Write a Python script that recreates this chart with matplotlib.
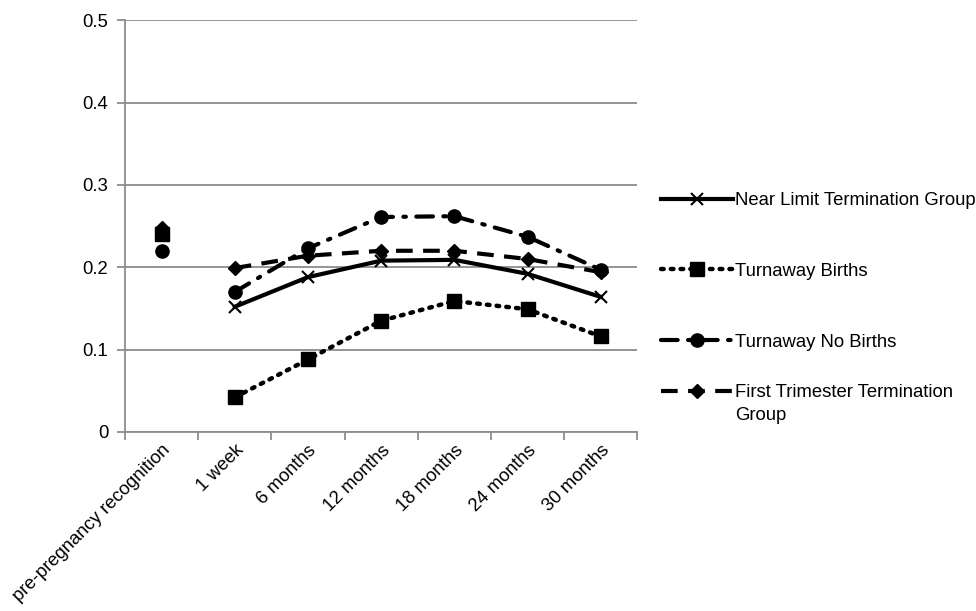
import numpy as np
import matplotlib.pyplot as plt
from matplotlib.ticker import FixedLocator, NullFormatter

plt.rcParams['font.family'] = ['Liberation Sans', 'DejaVu Sans']

categories = ['pre-pregnancy recognition', '1 week', '6 months', '12 months',
              '18 months', '24 months', '30 months']

near_limit = [0.242, 0.152, 0.188, 0.208, 0.209, 0.192, 0.164]
turnaway_births = [0.240, 0.042, 0.088, 0.135, 0.159, 0.149, 0.116]
turnaway_no_births = [0.220, 0.170, 0.223, 0.261, 0.262, 0.237, 0.197]
first_trimester = [0.248, 0.199, 0.214, 0.220, 0.220, 0.210, 0.194]

series = [
    ('Near Limit Termination Group', near_limit,
     dict(linestyle='-', marker='x', markersize=9, markeredgewidth=1.5, linewidth=3)),
    ('Turnaway Births', turnaway_births,
     dict(linestyle=(0, (0.6, 1.6)), dash_capstyle='round', marker='s', markersize=9.5, linewidth=3.2)),
    ('Turnaway No Births', turnaway_no_births,
     dict(linestyle=(0, (4, 2.5, 0.6, 2.5)), dash_capstyle='round', marker='o', markersize=9.5, linewidth=3)),
    ('First Trimester Termination', first_trimester,
     dict(linestyle=(0, (4, 2.5)), marker='D', markersize=7.5, linewidth=3)),
]

fs = 13.3

fig = plt.figure(figsize=(9.76, 6.11), dpi=100)
ax = fig.add_axes([0.128, 0.293, 0.525, 0.674])

x = np.arange(len(categories))
lines = []
for label, vals, style in series:
    vals = np.array(vals)
    # first point stands alone, the rest is one connected line
    ln, = ax.plot(x[1:], vals[1:], color='black', label=label, **style)
    lines.append(ln)
    ax.plot(x[:1], vals[:1], color='black', linestyle='none',
            marker=style['marker'], markersize=style['markersize'],
            markeredgewidth=style.get('markeredgewidth', 1))

ax.set_xlim(-0.5, len(categories) - 0.5)
ax.set_ylim(0, 0.5)
ax.set_yticks([0, 0.1, 0.2, 0.3, 0.4, 0.5])
ax.set_yticklabels(['0', '0.1', '0.2', '0.3', '0.4', '0.5'])
ax.yaxis.grid(True, color='#8c8c8c', linewidth=1.3)
ax.set_axisbelow(True)

ax.xaxis.set_major_locator(FixedLocator(np.arange(-0.5, len(categories), 1.0)))
ax.xaxis.set_major_formatter(NullFormatter())
ax.set_xticks(x, minor=True)
ax.set_xticklabels(categories, minor=True, rotation=45, ha='right',
                   rotation_mode='anchor', fontsize=fs)
ax.tick_params(axis='x', which='minor', length=0, pad=7)
ax.tick_params(axis='x', which='major', length=6, color='#8c8c8c', width=1.3)
ax.tick_params(axis='y', length=6, color='#8c8c8c', width=1.3, labelsize=fs, pad=6)

for side in ['top', 'right']:
    ax.spines[side].set_visible(False)
for side in ['left', 'bottom']:
    ax.spines[side].set_color('#8c8c8c')
    ax.spines[side].set_linewidth(1.3)

# legend in two parts so the wrapped last entry sits like the original
leg_opts = dict(frameon=False, fontsize=fs, handlelength=3.9, handletextpad=0.1)
leg1 = fig.legend(handles=lines[:3], loc='upper left', bbox_to_anchor=(0.66, 0.713),
                  labelspacing=2.92, **leg_opts)
leg2 = fig.legend(handles=lines[3:], loc='center left', bbox_to_anchor=(0.66, 0.357),
                  **leg_opts)

fig.canvas.draw()
bb = leg2.get_texts()[0].get_window_extent()
fig.text(bb.x0 / fig.bbox.width, 1 - 416 / 611, 'Group', fontsize=fs,
         ha='left', va='center')

plt.savefig('out.png', dpi=100)
